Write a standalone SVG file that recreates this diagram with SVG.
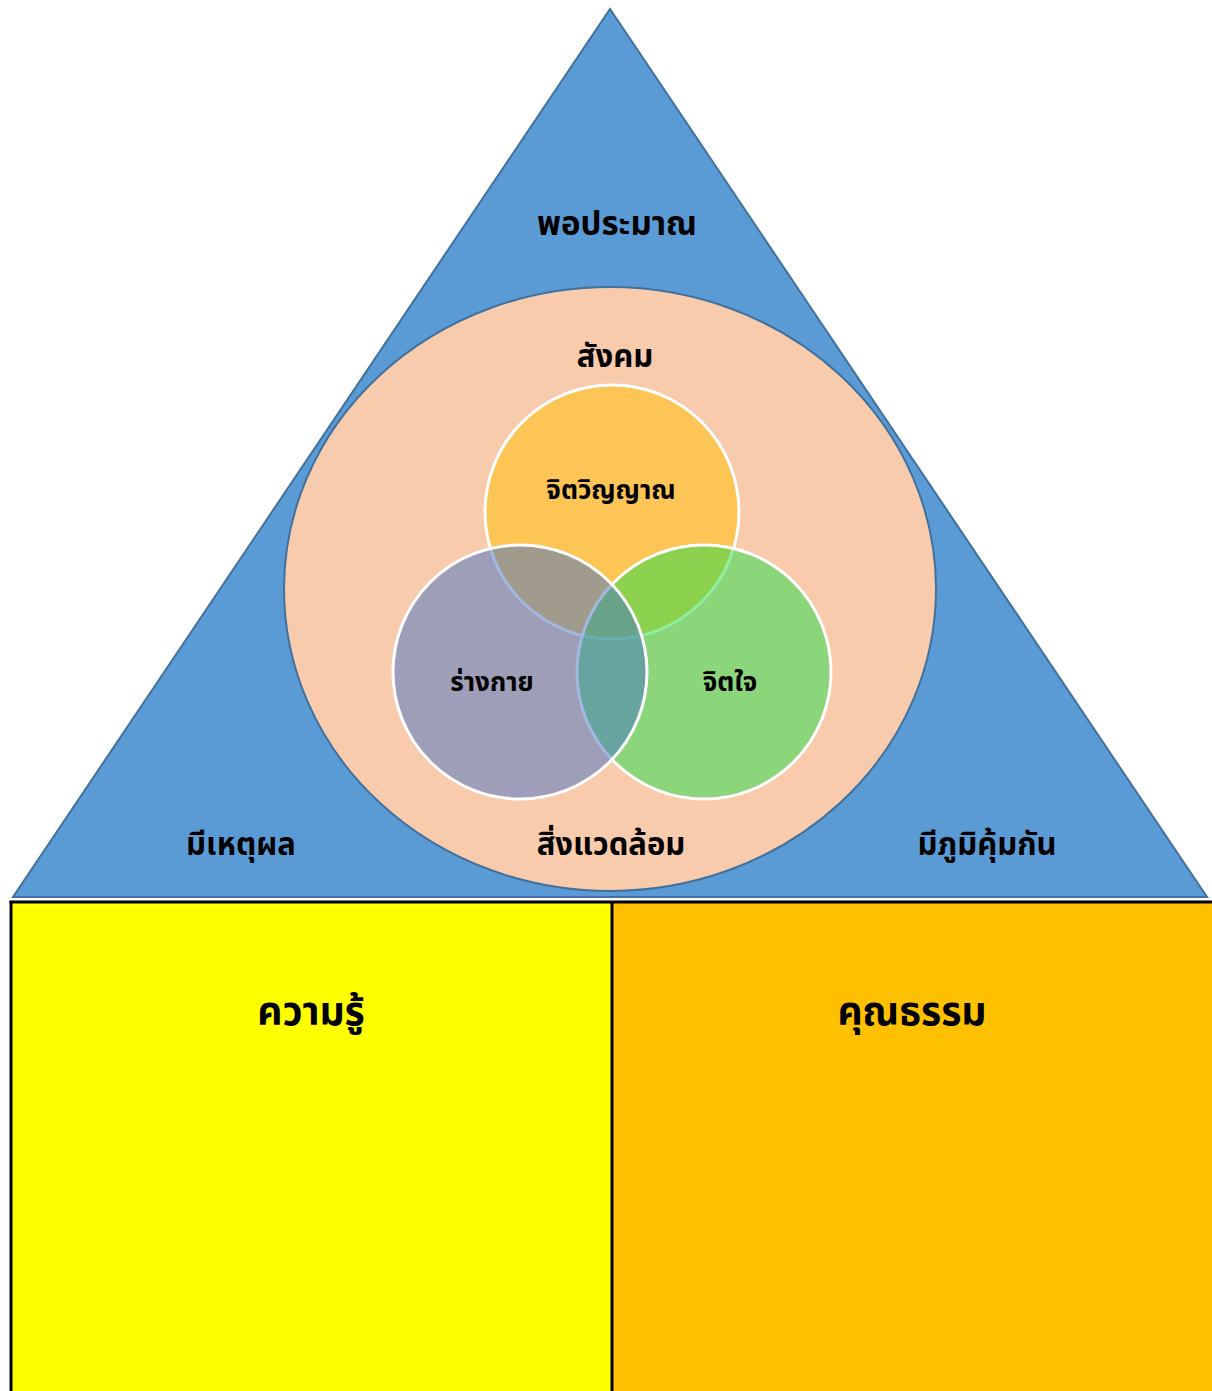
<svg xmlns="http://www.w3.org/2000/svg" width="1212" height="1391" viewBox="0 0 1212 1391">
<style>
.lbl{font-family:"Noto Sans Thai","Noto Sans Thai UI","Tahoma","DejaVu Sans","Noto Sans",sans-serif;font-weight:bold;fill:#000;text-anchor:middle}
.m{font-size:31px}
.t{font-size:33px}
.s{font-size:26px}
.l{font-size:39px}
.venn{stroke:#fff;stroke-width:3}
</style>
<rect width="1212" height="1391" fill="#fff"/>
<g id="triangle">
<polygon points="610,9 1207,897 13,897" fill="#5B9BD5" stroke="#41719C" stroke-width="2"/>
<text class="lbl t" x="617" y="235">พอประมาณ</text>
<text class="lbl m" x="241" y="855">มีเหตุผล</text>
<text class="lbl m" x="987" y="855">มีภูมิคุ้มกัน</text>
</g>
<g id="ellipse">
<ellipse cx="610" cy="589" rx="326" ry="302" fill="#F8CBAD" stroke="#41719C" stroke-width="2"/>
<text class="lbl m" x="615" y="367">สังคม</text>
<text class="lbl m" x="611" y="855">สิ่งแวดล้อม</text>
</g>
<g id="spirit">
<circle class="venn" cx="612" cy="512" r="127" fill="#FFC000" fill-opacity="0.5"/>
</g>
<g id="mind">
<circle class="venn" cx="704" cy="672" r="127" fill="#1EDF47" fill-opacity="0.5"/>
</g>
<g id="body">
<circle class="venn" cx="520" cy="672" r="127" fill="#4472C4" fill-opacity="0.5"/>
</g>
<g id="venn-labels">
<text class="lbl s" x="611" y="499">จิตวิญญาณ</text>
<text class="lbl s" x="492" y="691">ร่างกาย</text>
<text class="lbl s" x="730" y="691">จิตใจ</text>
</g>
<g id="knowledge">
<rect x="11" y="902" width="601" height="500" fill="#FFFF00"/>
<text class="lbl l" x="311" y="1025">ความรู้</text>
</g>
<g id="virtue">
<rect x="612" y="902" width="601" height="500" fill="#FFC000"/>
<text class="lbl l" x="912" y="1025">คุณธรรม</text>
</g>
<g id="connectors" stroke="#000" stroke-width="3" fill="none">
<line x1="9.5" y1="902" x2="1212" y2="902"/>
<line x1="11" y1="901" x2="11" y2="1391"/>
<line x1="612" y1="901" x2="612" y2="1391"/>
</g>
</svg>
